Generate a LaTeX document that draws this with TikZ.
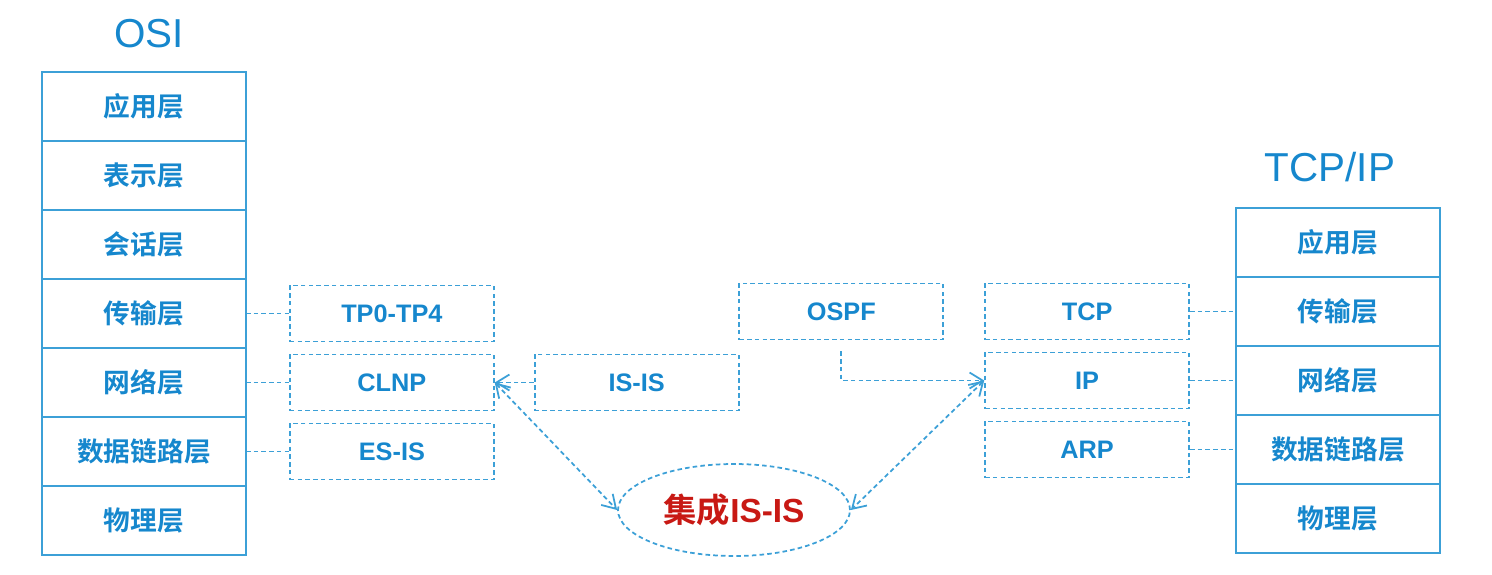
\documentclass[tikz,border=0pt]{standalone}
\usepackage{fontspec}
\setmainfont{Liberation Sans}
\newfontfamily\cjk{Noto Sans CJK SC}[BoldFont=* Bold]
\usepackage{tikz}
\usetikzlibrary{positioning}
\usetikzlibrary{shapes.geometric, arrows.meta}
\definecolor{laycol}{RGB}{60,160,215}
\definecolor{txtcol}{RGB}{22,135,205}
\definecolor{redcol}{RGB}{200,25,20}
\tikzstyle{layer}=[draw=laycol, line width=0.6pt, minimum width=2.04cm, minimum height=0.69cm, inner sep=0pt, outer sep=0pt, text=txtcol, font=\cjk\bfseries\fontsize{7.6}{9}\selectfont]
\tikzstyle{proto}=[draw=laycol, line width=0.5pt, dash pattern=on 1.3pt off 0.9pt, minimum width=2.04cm, minimum height=0.56cm, inner sep=0pt, text=txtcol, font=\bfseries\fontsize{7.2}{8}\selectfont]
\tikzstyle{stack title}=[text=txtcol, font=\fontsize{11.5}{13}\selectfont]
\tikzstyle{link}=[draw=laycol, line width=0.5pt, dash pattern=on 1.3pt off 0.9pt]
\tikzstyle{link arrow}=[link, >={Straight Barb[length=1.3mm, width=1.6mm]}]
\newcommand{\layernode}[3][]{
  \node [layer, #1] (#2) {#3}
}
\newcommand{\protonode}[3][]{
  \node [proto, #1] (#2) {#3}
}
\begin{document}
\begin{tikzpicture}
        \useasboundingbox (0,0) rectangle (14.92,-5.74);
        % OSI stack
        \layernode[at={(1.44,-1.065)}]{osi1}{应用层};
        \layernode[below=0cm of osi1]{osi2}{表示层};
        \layernode[below=0cm of osi2]{osi3}{会话层};
        \layernode[below=0cm of osi3]{osi4}{传输层};
        \layernode[below=0cm of osi4]{osi5}{网络层};
        \layernode[below=0cm of osi5]{osi6}{数据链路层};
        \layernode[below=0cm of osi6]{osi7}{物理层};
        \node[stack title, above=0.12cm of osi1, xshift=0.05cm] (osi) {OSI};
        % TCP/IP stack
        \layernode[at={(13.38,-2.425)}]{tcp1}{应用层};
        \layernode[below=0cm of tcp1]{tcp2}{传输层};
        \layernode[below=0cm of tcp2]{tcp3}{网络层};
        \layernode[below=0cm of tcp3]{tcp4}{数据链路层};
        \layernode[below=0cm of tcp4]{tcp5}{物理层};
        \node[stack title, above=0.14cm of tcp1, xshift=-0.08cm] (tcpip) {TCP/IP};
        % protocols
        \protonode[right=0.43cm of osi4]{tp}{TP0-TP4};
        \protonode[right=0.43cm of osi5]{clnp}{CLNP};
        \protonode[right=0.43cm of osi6]{esis}{ES-IS};
        \protonode[right=0.39cm of clnp]{isis}{IS-IS};
        \protonode[left=0.46cm of tcp2]{tcp}{TCP};
        \protonode[left=0.46cm of tcp3]{ip}{IP};
        \protonode[left=0.46cm of tcp4]{arp}{ARP};
        \protonode[left=0.4cm of tcp]{ospf}{OSPF};
        \node[ellipse, link, minimum width=2.32cm, minimum height=0.92cm, inner sep=0pt, text=redcol, font=\bfseries\fontsize{9.5}{11}\selectfont] (iisis) at (7.34,-5.1) {{\cjk 集成}IS-IS};
        % links
        \draw[link] (osi4) -- (tp);
        \draw[link] (osi5) -- (clnp);
        \draw[link] (osi6) -- (esis);
        \draw[link] (tcp) -- (tcp2);
        \draw[link] (ip) -- (tcp3);
        \draw[link] (arp) -- (tcp4);
        \draw[link arrow, ->] (isis) -- (clnp);
        \draw[link arrow, <->] (clnp.east) -- (iisis.west);
        \draw[link arrow, <->] (ip.west) -- (iisis.east);
        \draw[link arrow, ->, shorten <=0.11cm] (ospf.south) |- (ip.west);
\end{tikzpicture}
\end{document}
